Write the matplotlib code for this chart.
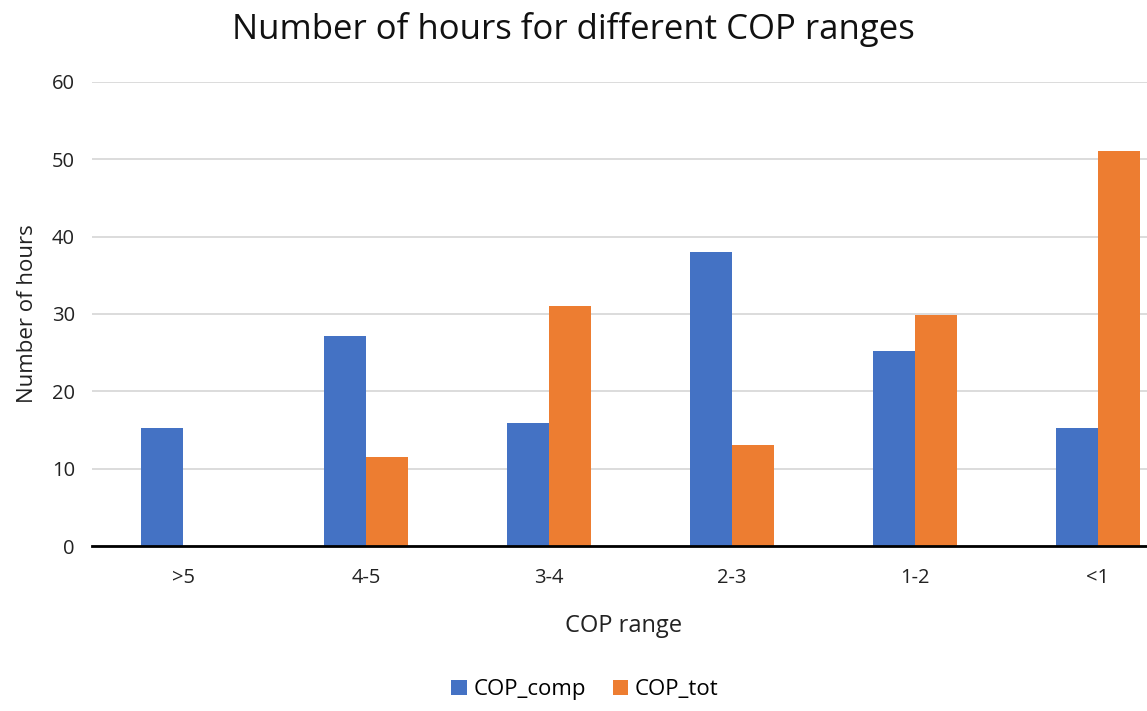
import numpy as np
import matplotlib.pyplot as plt

plt.rcParams['font.family'] = ['Open Sans', 'DejaVu Sans']

categories = ['>5', '4-5', '3-4', '2-3', '1-2', '<1']
cop_comp = [15.2, 27.2, 15.9, 38, 25.2, 15.2]
cop_tot = [0, 11.5, 31, 13, 29.8, 51]

blue = '#4472C4'
orange = '#ED7D31'

fig = plt.figure(figsize=(11.47, 7.11), dpi=100)
ax = fig.add_axes([0.0798, 0.232, 0.957, 0.653])

x = np.arange(len(categories))
w = 0.23
ax.bar(x - w / 2, cop_comp, w, color=blue, label='COP_comp', zorder=3)
ax.bar(x + w / 2, cop_tot, w, color=orange, label='COP_tot', zorder=3)

ax.set_xlim(-0.5, len(categories) - 0.5)
ax.set_ylim(0, 60)
ax.set_yticks(range(0, 61, 10))
ax.set_xticks(x)
ax.set_xticklabels(categories)
ax.yaxis.grid(True, color='#d9d9d9', linewidth=1.3, zorder=0)
for s in ['top', 'right', 'left']:
    ax.spines[s].set_visible(False)
ax.spines['bottom'].set_linewidth(2)
ax.spines['bottom'].set_color('black')
ax.spines['bottom'].set_zorder(4)
ax.tick_params(axis='both', length=0, labelsize=14.5, colors='#222222', pad=12)
ax.tick_params(axis='x', pad=16)

ax.set_ylabel('Number of hours', fontsize=16, color='#222222', labelpad=10)
fig.text(0.544, 0.12, 'COP range', ha='center', va='center', fontsize=17, color='#222222')
fig.text(0.5, 0.958, 'Number of hours for different COP ranges', ha='center', va='center',
         fontsize=25, color='#111111')

fig.legend(loc='center', bbox_to_anchor=(0.51, 0.03), ncol=2, frameon=False,
           fontsize=16, handlelength=0.7, handleheight=0.7, handletextpad=0.3,
           columnspacing=1.2)

fig.savefig('out.png', dpi=100)
